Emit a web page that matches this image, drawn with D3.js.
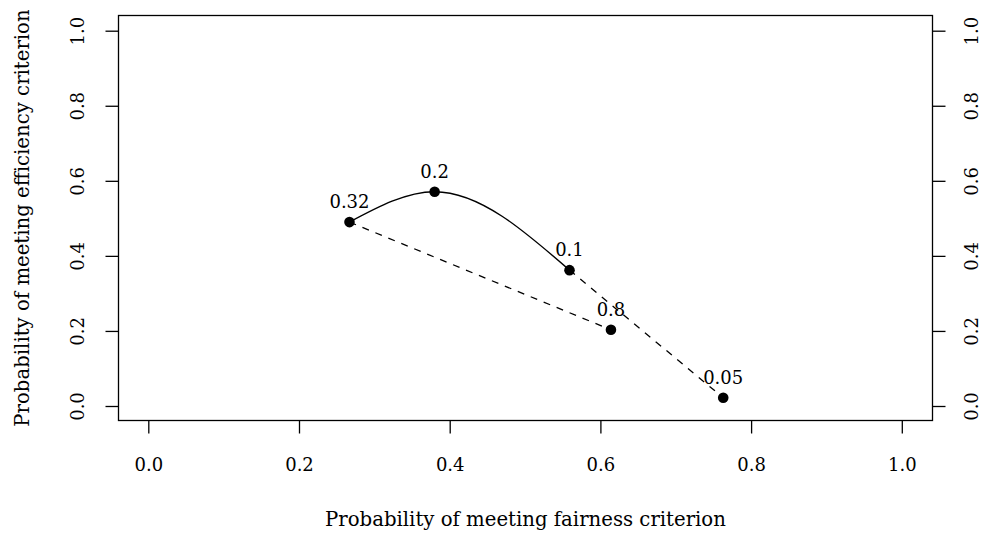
<!DOCTYPE html>
<meta charset="utf-8">
<style>
  body { margin: 0; background: #fff; }
  text { font-family: "DejaVu Serif", serif; }
</style>
<svg width="991" height="534"></svg>
<script src="https://d3js.org/d3.v7.min.js"></script>
<script>

// points: fairness (x), efficiency (y), label
const labels = ["0.32", "0.2", "0.1", "0.8", "0.05"]
const fairness = [0.267, 0.380, 0.559, 0.614, 0.763]
const efficiency = [0.490, 0.571, 0.362, 0.203, 0.022]
const ticks = [0, 0.2, 0.4, 0.6, 0.8, 1.0]

// solid curve: 0.32 -> 0.2 -> 0.1, dashed: 0.32 -> 0.8 and 0.1 -> 0.05
const solidPath = [0, 1, 2]
const dashedPaths = [[0, 3], [2, 4]]

const svg = d3.select("svg")
const box = {left: 118.5, right: 932.5, top: 15.5, bottom: 420.5}

const x = d3.scaleLinear().domain([0, 1]).range([148.3, 901.8])
const y = d3.scaleLinear().domain([0, 1]).range([406, 30.7])

const pts = labels.map((l, i) => ({label: l, x: fairness[i], y: efficiency[i]}))

svg.append("rect")
    .attr("x", box.left).attr("y", box.top)
    .attr("width", box.right - box.left).attr("height", box.bottom - box.top)
    .attr("fill", "none").attr("stroke", "#000").attr("stroke-width", 1.3)

const fmt = d3.format(".1f")
const fs = 18
const fsTitle = 19.7

// bottom axis
const gx = svg.append("g").attr("transform", `translate(0,${box.bottom})`)
    .call(d3.axisBottom(x).tickValues(ticks).tickFormat(fmt).tickSize(13))
// left axis
const gy = svg.append("g").attr("transform", `translate(${box.left},0)`)
    .call(d3.axisLeft(y).tickValues(ticks).tickFormat(fmt).tickSize(13))
// right axis
const gr = svg.append("g").attr("transform", `translate(${box.right},0)`)
    .call(d3.axisRight(y).tickValues(ticks).tickFormat(fmt).tickSize(13))

for (const g of [gx, gy, gr]) {
  g.select(".domain").remove()
  g.selectAll("line").attr("stroke", "#000").attr("stroke-width", 1.3)
  g.selectAll("text").attr("font-size", fs).attr("fill", "#000")
    .attr("font-family", null)
}
gx.selectAll("text").attr("dy", null).attr("y", 50)

// rotated y tick labels (R style)
gy.selectAll(".tick text")
    .attr("x", null).attr("dy", null).attr("y", null)
    .attr("text-anchor", "middle")
    .attr("transform", "translate(-34.5,0) rotate(-90)")
gr.selectAll(".tick text")
    .attr("x", null).attr("dy", null).attr("y", null)
    .attr("text-anchor", "middle")
    .attr("transform", "translate(45.5,0) rotate(-90)")

// axis titles
svg.append("text")
    .attr("x", (box.left + box.right) / 2).attr("y", 526)
    .attr("text-anchor", "middle").attr("font-size", fsTitle)
    .text("Probability of meeting fairness criterion")
svg.append("text")
    .attr("transform", `translate(29,${(box.top + box.bottom) / 2}) rotate(-90)`)
    .attr("text-anchor", "middle").attr("font-size", fsTitle)
    .text("Probability of meeting efficiency criterion")

svg.append("path")
    .datum(solidPath.map(i => pts[i]))
    .attr("d", d3.line().x(d => x(d.x)).y(d => y(d.y)).curve(d3.curveMonotoneX))
    .attr("fill", "none").attr("stroke", "#000").attr("stroke-width", 1.4)

svg.selectAll(".dash")
  .data(dashedPaths)
  .join("path")
    .attr("class", "dash")
    .attr("d", d => d3.line().x(p => x(p.x)).y(p => y(p.y))(d.map(i => pts[i])))
    .attr("fill", "none").attr("stroke", "#000").attr("stroke-width", 1.3)
    .attr("stroke-dasharray", "7,7")

svg.selectAll(".pt")
  .data(pts)
  .join("circle")
    .attr("class", "pt")
    .attr("cx", d => x(d.x)).attr("cy", d => y(d.y))
    .attr("r", 5.3).attr("fill", "#000")

svg.selectAll(".lbl")
  .data(pts)
  .join("text")
    .attr("class", "lbl")
    .attr("x", d => x(d.x)).attr("y", d => y(d.y) - 14)
    .attr("text-anchor", "middle").attr("font-size", fs)
    .text(d => d.label)

</script>
